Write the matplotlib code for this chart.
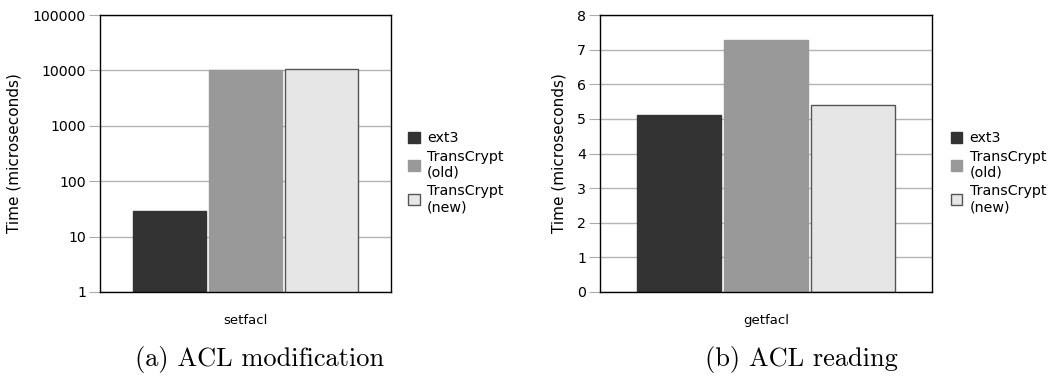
import matplotlib
matplotlib.use("Agg")
import matplotlib.pyplot as plt
from matplotlib.patches import Patch
from matplotlib.ticker import FixedLocator, FixedFormatter

# data
series = ["ext3", "TransCrypt\n(old)", "TransCrypt\n(new)"]
set_category = "setfacl"
set_values = [29, 10000, 10400]
get_category = "getfacl"
get_values = [5.12, 7.28, 5.41]
log_ticks = [1, 10, 100, 1000, 10000, 100000]
lin_ticks = [0, 1, 2, 3, 4, 5, 6, 7, 8]

colors = ["#333333", "#999999", "#e6e6e6"]
edges = ["#333333", "#999999", "#555555"]
offsets = [-0.262, 0.0, 0.262]
width = 0.252

fig = plt.figure(figsize=(10.54, 3.81), dpi=100)


def draw_panel(ax, category, values, ticks, log=False):
    for i in range(len(series)):
        ax.bar(offsets[i], values[i], width=width, color=colors[i],
               edgecolor=edges[i], linewidth=1.0, zorder=3)
    if log:
        ax.set_yscale("log")
    ax.set_ylim(ticks[0], ticks[-1])
    ax.yaxis.set_major_locator(FixedLocator(ticks))
    ax.yaxis.set_major_formatter(FixedFormatter([str(t) for t in ticks]))
    ax.yaxis.set_minor_locator(FixedLocator([]))
    ax.set_xlim(-0.5, 0.5)
    ax.set_xticks([0])
    ax.set_xticklabels([category], fontsize=9.5)
    ax.tick_params(axis="x", length=0, pad=16)
    ax.tick_params(axis="y", length=8, color="#aaaaaa", labelsize=10.2, pad=2)
    ax.grid(axis="y", color="#b4b4b4", linewidth=1.0, zorder=0)
    for s in ax.spines.values():
        s.set_linewidth(1.0)
        s.set_zorder(4)
    ax.set_ylabel("Time (microseconds)", fontsize=11, labelpad=8)
    handles = [Patch(facecolor=colors[i], edgecolor=edges[i] if i == 2 else colors[i])
               for i in range(len(series))]
    ax.legend(handles, series, loc="center left", bbox_to_anchor=(1.04, 0.43),
              frameon=False, fontsize=10.3, handlelength=0.8, handleheight=0.8,
              handletextpad=0.5, labelspacing=0.3, borderaxespad=0)


ax1 = fig.add_axes([0.0949, 0.2336, 0.276, 0.727])
draw_panel(ax1, set_category, set_values, log_ticks, log=True)

ax2 = fig.add_axes([0.5693, 0.2336, 0.315, 0.727])
draw_panel(ax2, get_category, get_values, lin_ticks)

fig.text(0.246, 0.057, "(a) ACL modification", ha="center", va="center",
         fontsize=19, family="cmr10")
fig.text(0.760, 0.057, "(b) ACL reading", ha="center", va="center",
         fontsize=19, family="cmr10")

fig.savefig("out.png", dpi=100)
